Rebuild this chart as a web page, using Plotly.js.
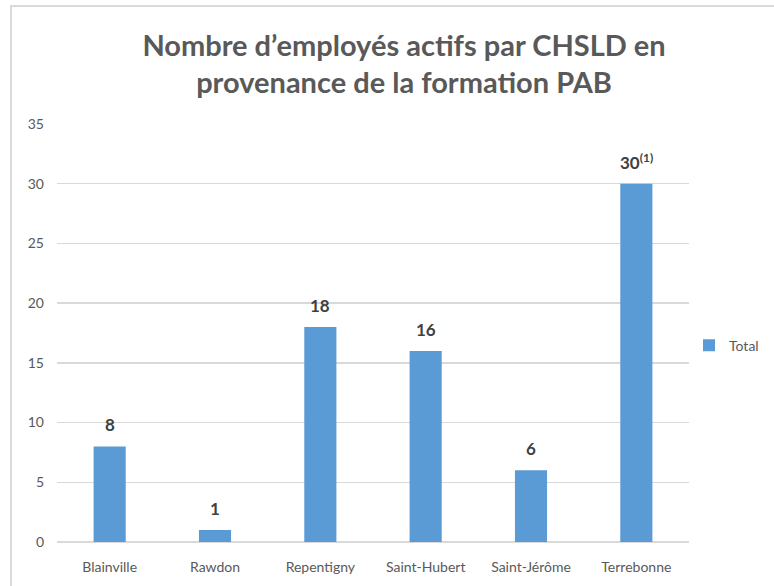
<!DOCTYPE html>
<html>
<head>
<meta charset="utf-8">
<script src="https://cdn.plot.ly/plotly-3.0.1.min.js"></script>
<style>html,body{margin:0;padding:0;background:#fff;}#chart{width:774px;height:586px;}</style>
</head>
<body>
<div id="chart"></div>
<script>
const categories = ["Blainville", "Rawdon", "Repentigny", "Saint-Hubert", "Saint-Jérôme", "Terrebonne"];
const totals = [8, 1, 18, 16, 6, 30];
const valueLabels = ["8", "1", "18", "16", "6", "30<sup>(1)</sup>"];
const yTicks = [0, 5, 10, 15, 20, 25, 30, 35];
const titleText = "Nombre d’employés actifs par CHSLD en<br>provenance de la formation PAB";
const seriesName = "Total";

const trace = {
  type: "bar",
  x: categories,
  y: totals,
  name: seriesName,
  marker: {color: "#5B9BD5"},
  showlegend: true
};

const labelAnnotations = categories.map((c, i) => ({
  x: c, y: totals[i], xref: "x", yref: "y",
  text: valueLabels[i], showarrow: false,
  yanchor: "bottom", yshift: 9,
  font: {family: "Lato, 'Open Sans', sans-serif", size: 17, color: "#404040", weight: "bold"}
}));

const layout = {
  width: 774, height: 586,
  margin: {l: 57, r: 85, t: 124, b: 44, autoexpand: false},
  paper_bgcolor: "#fff", plot_bgcolor: "#fff",
  bargap: 0.695,
  font: {family: "Lato, 'Open Sans', sans-serif", color: "#595959"},
  title: {
    text: titleText,
    font: {family: "Lato, sans-serif", size: 29, color: "#595959", weight: "bold"},
    x: 0.522, xref: "container", xanchor: "center", y: 0.905, yref: "container", yanchor: "middle"
  },
  annotations: labelAnnotations,
  xaxis: {
    type: "category",
    tickfont: {size: 14, color: "#595959"},
    showgrid: false, zeroline: false, showline: false,
    ticks: "", ticklen: 0, ticklabelstandoff: 15
  },
  yaxis: {
    range: [0, 35],
    tickvals: yTicks,
    tickfont: {size: 14, color: "#595959"},
    showgrid: true, gridcolor: "#d9d9d9", gridwidth: 1.5,
    zeroline: true, zerolinecolor: "#d9d9d9", zerolinewidth: 1.5,
    showline: false, ticks: "", ticklabelstandoff: 12
  },
  legend: {
    x: 1.0, xanchor: "left", y: 0.47, yanchor: "middle",
    font: {size: 14, color: "#595959"},
    itemwidth: 30
  },
  shapes: [{
    type: "rect", xref: "paper", yref: "paper",
    x0: -0.0728, x1: 1.2, y0: -0.2, y1: 1.282,
    line: {color: "#d9d9d9", width: 2}, fillcolor: "rgba(0,0,0,0)", layer: "below"
  }]
};

Plotly.newPlot("chart", [trace], layout, {displayModeBar: false, staticPlot: true});
</script>
</body>
</html>
